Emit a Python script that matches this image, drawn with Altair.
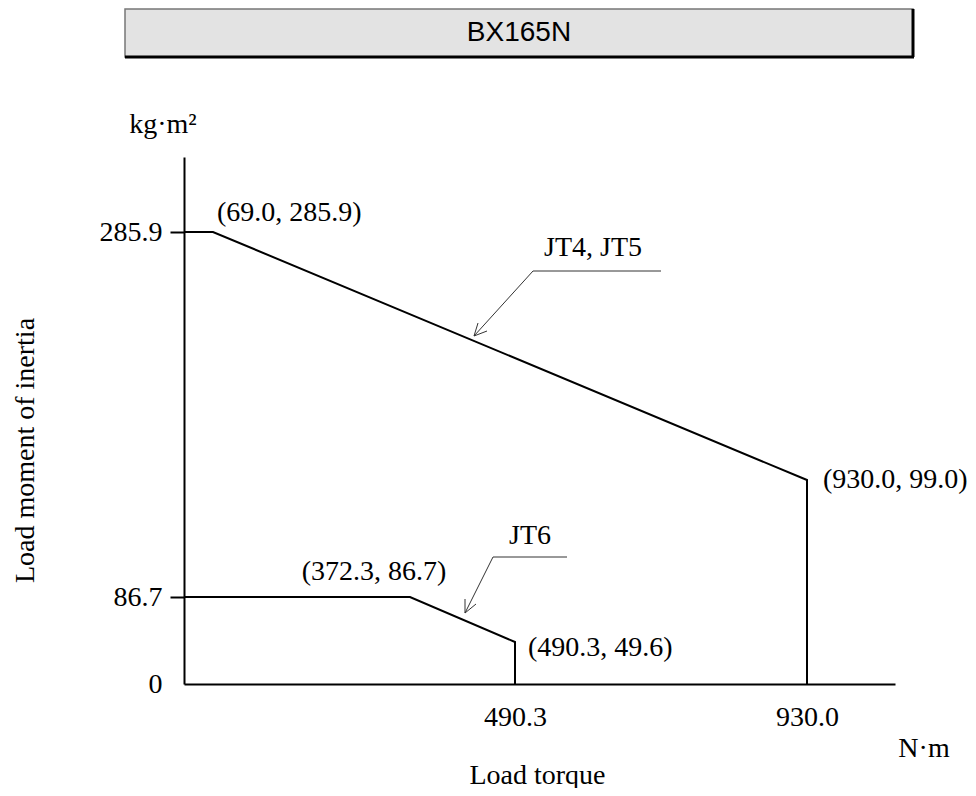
import altair as alt
import pandas as pd

# ---- data ----
jt45_torque = [0.0, 0.0, 69.0, 930.0, 930.0]
jt45_inertia = [285.9, 285.9, 285.9, 99.0, 0.0]
jt6_torque = [0.0, 372.3, 490.3, 490.3]
jt6_inertia = [86.7, 86.7, 49.6, 0.0]

x_ticks = [490.3, 930.0]
y_ticks = [0.0, 86.7, 285.9]

point_torque = [69.0, 930.0, 372.3, 490.3]
point_inertia = [285.9, 99.0, 86.7, 49.6]
point_labels = ["(69.0, 285.9)", "(930.0, 99.0)", "(372.3, 86.7)", "(490.3, 49.6)"]

chart_title = "BX165N"
x_title = "Load torque"
y_title = "Load moment of inertia"
x_unit = "N·m"
y_unit = "kg·m²"
series_names = ["JT4, JT5", "JT6"]

# ---- schematic (not-to-scale) piecewise axes, as in the drawing ----
W, H = 711, 527
x_scale = alt.Scale(domain=[0, 69.0, 372.3, 490.3, 930.0, 1062],
                    range=[0, 29, 226, 331, 623, W], zero=False, nice=False)
y_scale = alt.Scale(domain=[0, 49.6, 86.7, 99.0, 285.9, 342],
                    range=[H, 485, 440, 323, 75, 0], zero=False, nice=False)

SERIF = "Liberation Serif"
FS = 28

lines_df = pd.concat([
    pd.DataFrame({"torque": jt45_torque, "inertia": jt45_inertia,
                  "series": series_names[0], "i": range(len(jt45_torque))}),
    pd.DataFrame({"torque": jt6_torque, "inertia": jt6_inertia,
                  "series": series_names[1], "i": range(len(jt6_torque))}),
])

x_enc = alt.X("torque:Q", scale=x_scale,
              axis=alt.Axis(values=x_ticks, format=".1f", ticks=False, grid=False,
                            domainColor="black", domainWidth=2,
                            labelFont=SERIF, labelFontSize=FS, labelColor="black",
                            labelPadding=19, labelFlush=False,
                            title=x_title, titleFont=SERIF, titleFontSize=FS,
                            titleFontWeight="normal", titleColor="black",
                            titleX=353, titleY=91, titleBaseline="middle",
                            titleAlign="center"))
y_enc = alt.Y("inertia:Q", scale=y_scale,
              axis=alt.Axis(values=y_ticks, format=".1f",
                            labelExpr="datum.value == 0 ? '0' : format(datum.value, '.1f')",
                            tickSize=14, tickWidth=2, tickColor="black",
                            tickOpacity=alt.ConditionalAxisNumber(
                                condition={"test": "datum.value == 0", "value": 0}, value=1),
                            grid=False, domainColor="black", domainWidth=2,
                            labelFont=SERIF, labelFontSize=FS, labelColor="black",
                            labelPadding=8, labelFlush=False,
                            title=y_title, titleFont=SERIF, titleFontSize=FS,
                            titleFontWeight="normal", titleColor="black",
                            titleX=-159, titleY=293, titleAngle=-90,
                            titleAlign="center", titleBaseline="middle"))

lines = alt.Chart(lines_df).mark_line(color="black", strokeWidth=2).encode(
    x=x_enc, y=y_enc, detail="series:N", order=alt.Order("i:Q"))

pts_df = pd.DataFrame({"torque": point_torque, "inertia": point_inertia, "label": point_labels})
label_style = [("left", 4, -19), ("left", 16, 0), ("center", -36, -25), ("left", 13, 6)]
label_layers = []
for lab, (al, dx, dy) in zip(point_labels, label_style):
    label_layers.append(
        alt.Chart(pts_df).transform_filter(alt.datum.label == lab)
        .mark_text(font=SERIF, fontSize=FS, color="black", align=al,
                   baseline="middle", dx=dx, dy=dy)
        .encode(x=alt.X("torque:Q", scale=x_scale),
                y=alt.Y("inertia:Q", scale=y_scale), text="label:N"))

# ---- decorations: title box, unit labels, leader arrows (pixel positions) ----
one = pd.DataFrame({"a": [0]})
base = alt.Chart(one)

title_box = base.mark_rect(fill="#e3e3e3", stroke="#777777", strokeWidth=1.5).encode(
    x=alt.value(-59), x2=alt.value(729), y=alt.value(-148), y2=alt.value(-100))
title_shadow_b = base.mark_rule(color="black", strokeWidth=3).encode(
    x=alt.value(-59), x2=alt.value(730), y=alt.value(-100), y2=alt.value(-100))
title_shadow_r = base.mark_rule(color="black", strokeWidth=3).encode(
    x=alt.value(729), x2=alt.value(729), y=alt.value(-148), y2=alt.value(-100))
title_text = base.mark_text(font="Liberation Sans", fontSize=28, color="black",
                            baseline="middle").encode(
    x=alt.value(335), y=alt.value(-124), text=alt.value(chart_title))

y_unit_text = base.mark_text(font=SERIF, fontSize=FS, color="black", baseline="middle").encode(
    x=alt.value(-21), y=alt.value(-32), text=alt.value(y_unit))
x_unit_text = base.mark_text(font=SERIF, fontSize=FS, color="black", baseline="middle").encode(
    x=alt.value(740), y=alt.value(592), text=alt.value(x_unit))

ann_text = [
    base.mark_text(font=SERIF, fontSize=FS, color="black", baseline="middle").encode(
        x=alt.value(409), y=alt.value(91), text=alt.value(series_names[0])),
    base.mark_text(font=SERIF, fontSize=FS, color="black", baseline="middle").encode(
        x=alt.value(346), y=alt.value(379), text=alt.value(series_names[1])),
]

segs = [
    # JT4, JT5 leader
    (349, 114, 477, 114), (349, 114, 290, 179), (290, 179, 303, 174), (290, 179, 294, 166),
    # JT6 leader
    (309, 400, 383, 400), (309, 400, 281, 456), (281, 456, 292, 447), (281, 456, 281, 442),
]
ann_rules = [
    base.mark_rule(color="#333333", strokeWidth=1).encode(
        x=alt.value(a), y=alt.value(b), x2=alt.value(c), y2=alt.value(d))
    for a, b, c, d in segs
]

chart = alt.layer(
    title_box, title_shadow_b, title_shadow_r, title_text,
    lines, *label_layers, y_unit_text, x_unit_text, *ann_text, *ann_rules,
).properties(
    width=W, height=H,
    autosize=alt.AutoSizeParams(type="none"),
    padding={"left": 176, "top": 149, "right": 73, "bottom": 104},
).configure_view(stroke=None)

chart.save("out.html", embed_options={"renderer": "svg", "actions": False})
